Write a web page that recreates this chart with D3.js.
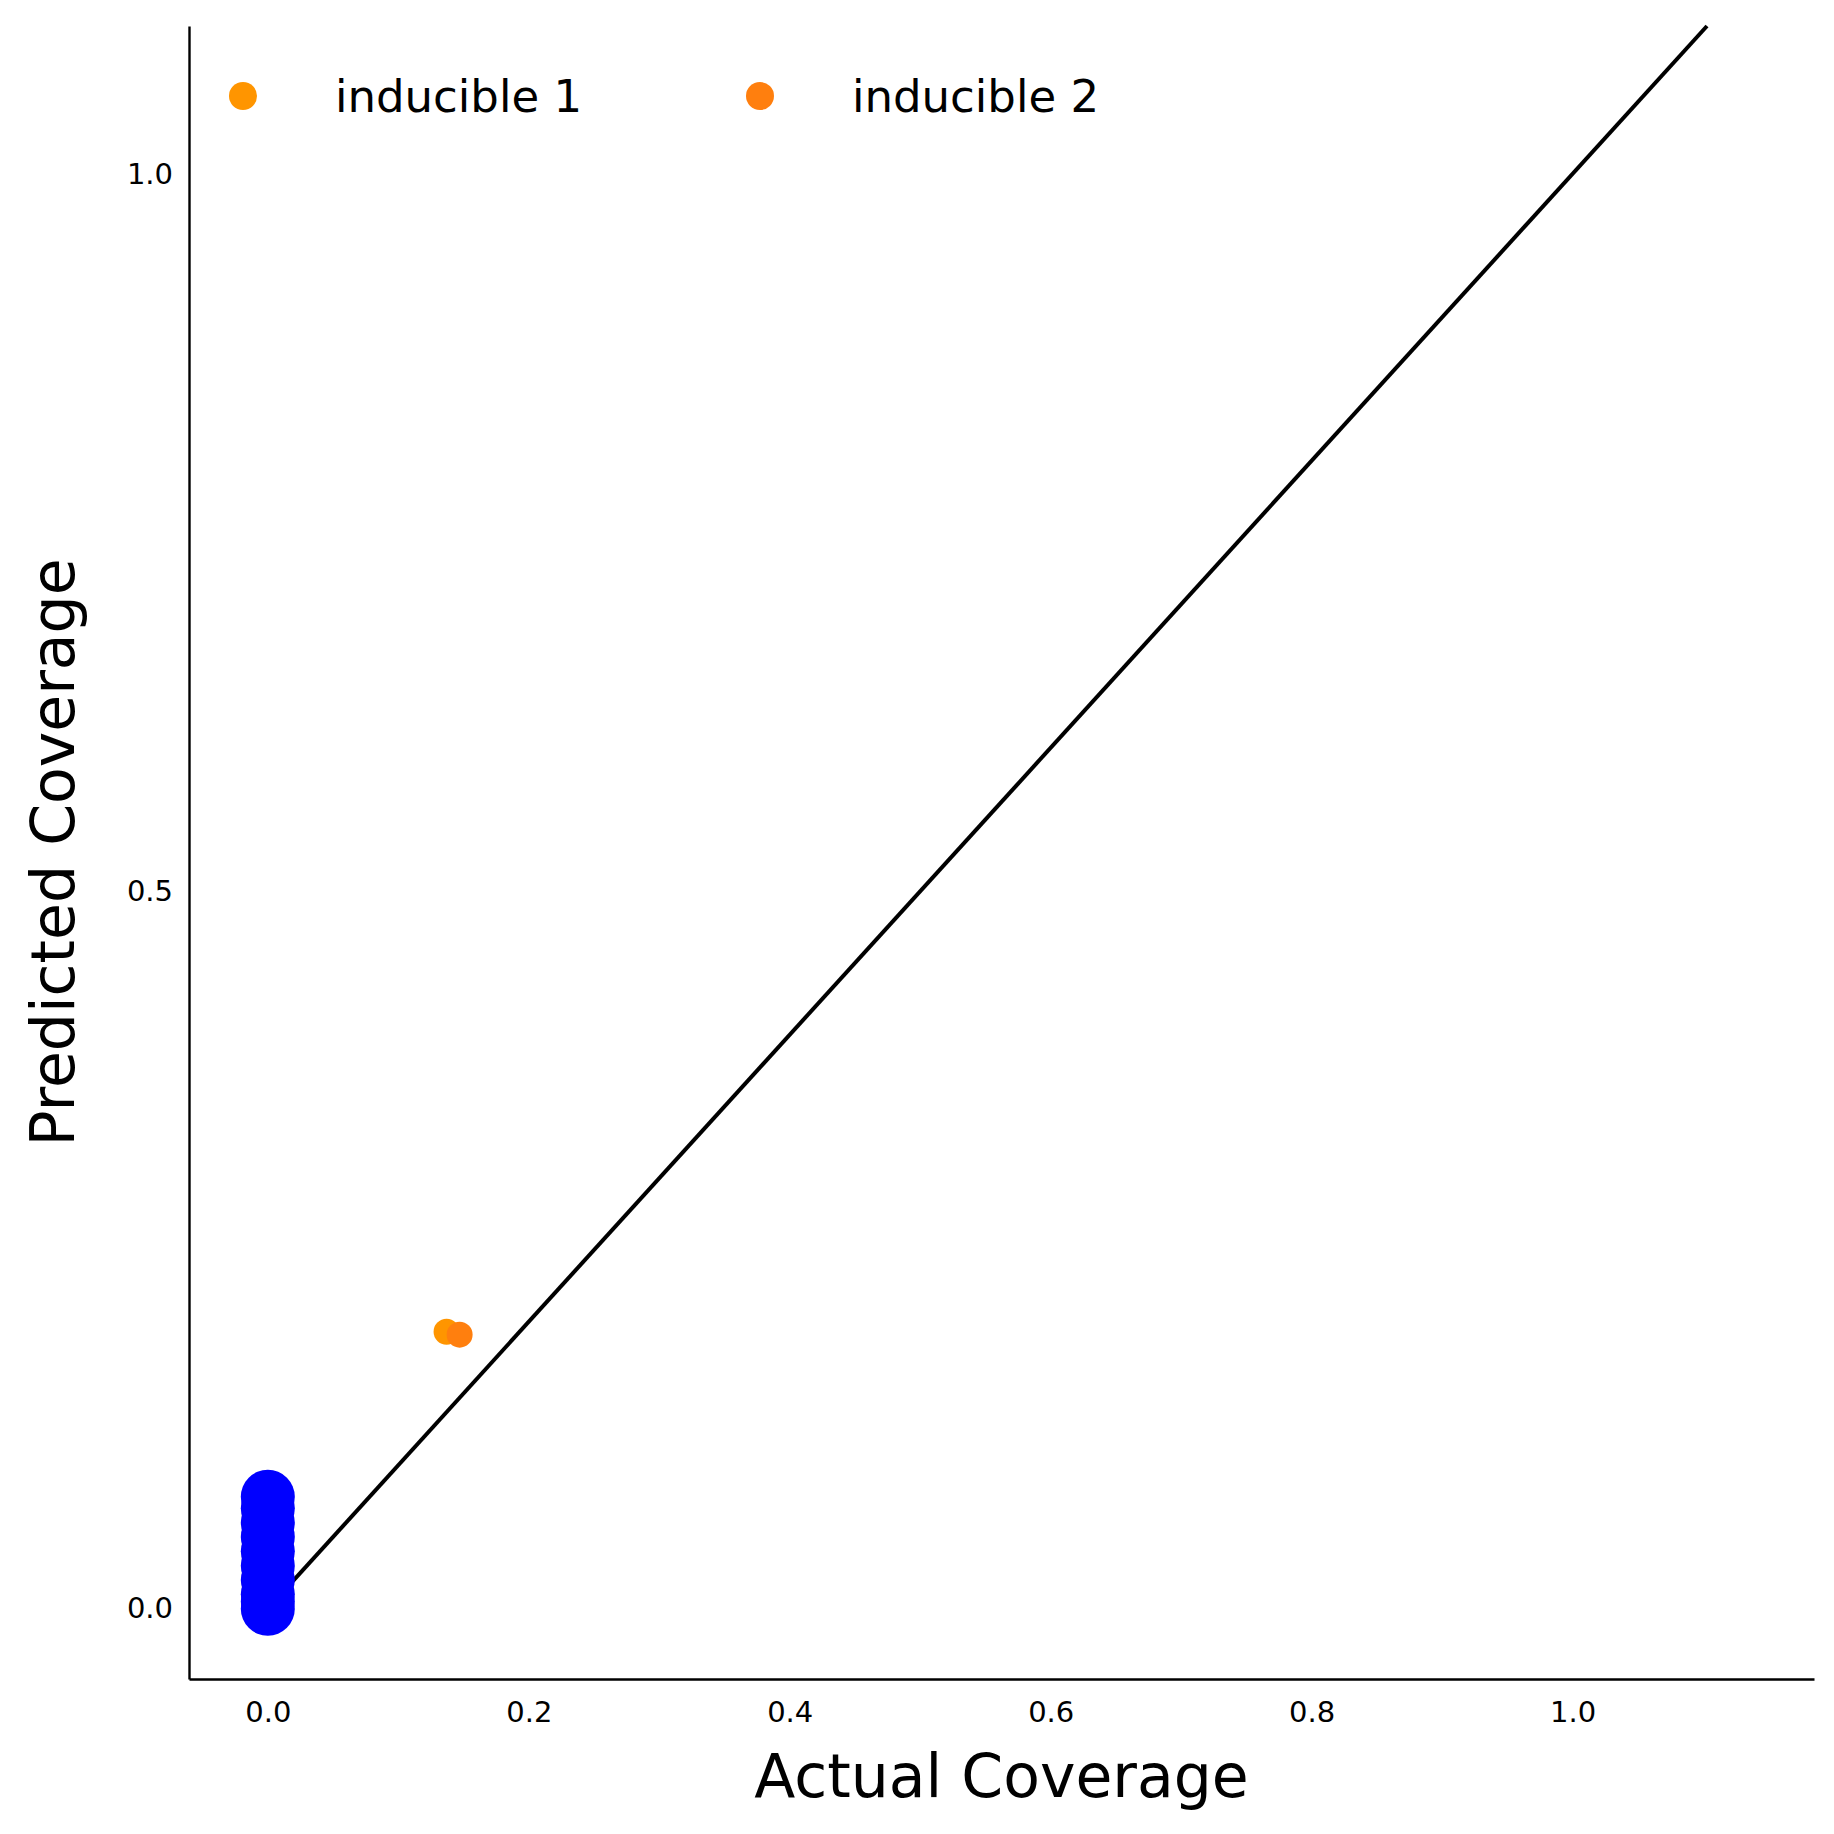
<!DOCTYPE html>
<html><head><meta charset="utf-8">
<script src="https://cdn.jsdelivr.net/npm/d3@7"></script>
<style>body{margin:0;background:#fff}text{font-family:"DejaVu Sans",sans-serif}</style>
</head><body><div id="chart"></div>
<script>
const blueY = [0, 0.005, 0.01, 0.02, 0.03, 0.04, 0.05, 0.06, 0.07, 0.078];
const blueX = blueY.map(() => 0);
const seriesNames = ['inducible 1', 'inducible 2'];
const seriesX = [0.137, 0.147];
const seriesY = [0.193, 0.191];
const seriesColors = ['#ff9500', '#ff7f0e'];
const xTicks = [0, 0.2, 0.4, 0.6, 0.8, 1.0];
const yTicks = [0, 0.5, 1.0];

const W = 1834, H = 1834;
const mLeft = 189, mRight = 1814, mTop = 26, mBottom = 1679;

const svg = d3.select('#chart').append('svg').attr('width', W).attr('height', H);

const x = d3.scaleLinear().domain([-0.0604, 1.185]).range([mLeft, mRight]);
const y = d3.scaleLinear().domain([-0.049, 1.103]).range([mBottom, mTop]);

// axes
svg.append('g').attr('transform', `translate(0,${mBottom})`)
    .call(d3.axisBottom(x).tickValues(xTicks).tickFormat(d3.format('.1f')).tickSize(0).tickPadding(22).tickSizeOuter(0))
    .call(g => g.select('.domain').attr('stroke-width', 2.4))
    .selectAll('text').attr('font-size', 29).attr('font-family', 'DejaVu Sans');
svg.append('g').attr('transform', `translate(${mLeft},0)`)
    .call(d3.axisLeft(y).tickValues(yTicks).tickFormat(d3.format('.1f')).tickSize(0).tickPadding(16).tickSizeOuter(0))
    .call(g => g.select('.domain').attr('stroke-width', 2.4))
    .selectAll('text').attr('font-size', 29).attr('font-family', 'DejaVu Sans');

// identity line
svg.append('line')
    .attr('x1', x(0)).attr('y1', y(0))
    .attr('x2', x(1.103)).attr('y2', y(1.103))
    .attr('stroke', '#000').attr('stroke-width', 4);

// blue points
svg.append('g').selectAll('circle').data(blueY).join('circle')
    .attr('cx', (d, i) => x(blueX[i])).attr('cy', d => y(d))
    .attr('r', 27).attr('fill', '#0000ff');

// orange points
svg.append('g').selectAll('circle').data(seriesNames).join('circle')
    .attr('cx', (d, i) => x(seriesX[i])).attr('cy', (d, i) => y(seriesY[i]))
    .attr('r', 13).attr('fill', (d, i) => seriesColors[i]);

// legend
const legend = svg.append('g').selectAll('g').data(seriesNames).join('g')
    .attr('transform', (d, i) => `translate(${243 + i * 517},96)`);
legend.append('circle').attr('r', 14).attr('fill', (d, i) => seriesColors[i]);
legend.append('text').attr('x', 92).attr('dy', '0.35em').attr('font-size', 45).text(d => d);

// axis labels
svg.append('text').attr('x', (mLeft + mRight) / 2).attr('y', 1797)
    .attr('text-anchor', 'middle').attr('font-size', 60).text('Actual Coverage');
svg.append('text').attr('transform', `translate(74,${(mTop + mBottom) / 2}) rotate(-90)`)
    .attr('text-anchor', 'middle').attr('font-size', 60).text('Predicted Coverage');
</script>
</body></html>
